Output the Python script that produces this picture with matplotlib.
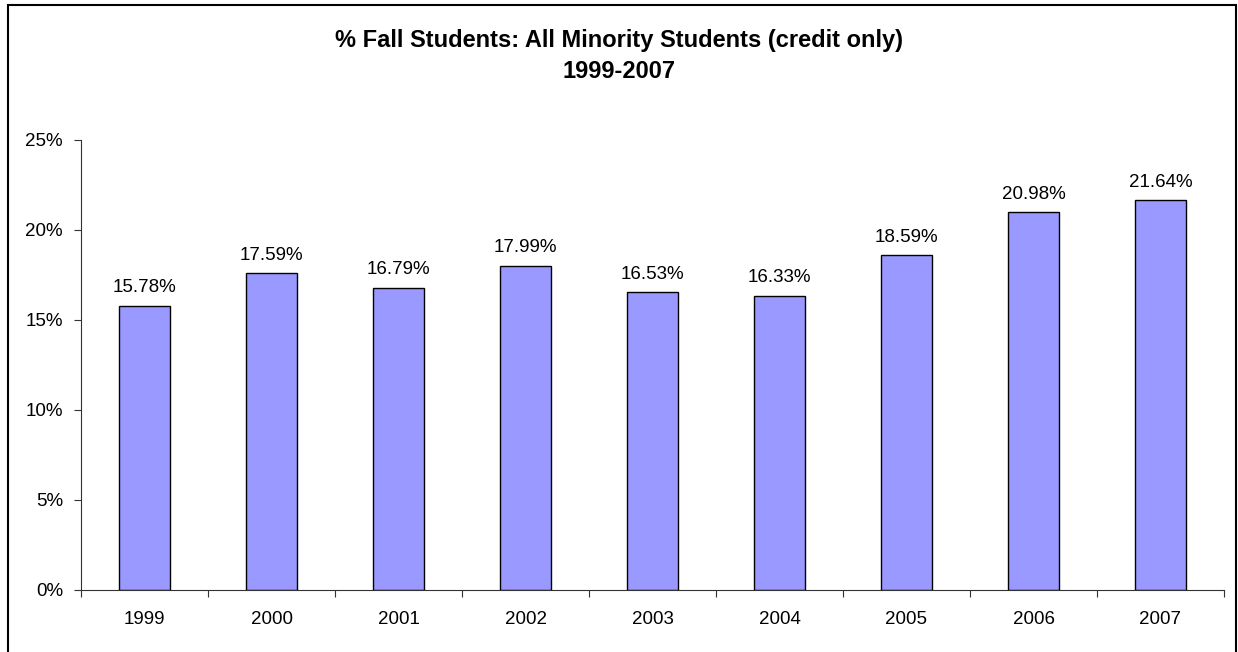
import matplotlib
matplotlib.use("Agg")
import matplotlib.pyplot as plt
from matplotlib.patches import Rectangle
from matplotlib.ticker import FuncFormatter, FixedLocator

plt.rcParams['font.family'] = ['Liberation Sans', 'DejaVu Sans']

years = ['1999', '2000', '2001', '2002', '2003', '2004', '2005', '2006', '2007']
pct = [15.78, 17.59, 16.79, 17.99, 16.53, 16.33, 18.59, 20.98, 21.64]

W, H = 1238, 652
fig = plt.figure(figsize=(W / 100, H / 100), dpi=100)

# outer chart frame (runs off the bottom of the image)
fig.patches.append(Rectangle((8 / W, -0.05), (1236 - 8) / W, 1.05 - 5 / H,
                             transform=fig.transFigure, fill=False,
                             edgecolor='black', linewidth=1.5))

ax = fig.add_axes([81 / W, 1 - 590 / H, (1224 - 81) / W, (590 - 140) / H])
x = list(range(len(years)))
bars = ax.bar(x, pct, width=0.4, color='#9999FF', edgecolor='black', linewidth=1.0)

for xi, v in zip(x, pct):
    ax.annotate(f'{v:.2f}%', (xi, v), xytext=(0, 7), textcoords='offset points',
                ha='center', va='bottom', fontsize=13.5)

ax.set_xlim(-0.5, len(years) - 0.5)
ax.set_ylim(0, 25)
ax.set_yticks([0, 5, 10, 15, 20, 25])
ax.yaxis.set_major_formatter(FuncFormatter(lambda v, p: f'{v:.0f}%'))
ax.set_xticks(x)
ax.set_xticklabels(years)
ax.xaxis.set_minor_locator(FixedLocator([i - 0.5 for i in range(len(years) + 1)]))
ax.tick_params(axis='x', which='major', length=0, pad=15, labelsize=13.5)
ax.tick_params(axis='x', which='minor', length=5, width=0.8, direction='out', color='#333333')
ax.tick_params(axis='y', length=5, width=0.8, direction='out', pad=8, labelsize=13.5, color='#333333')

for s in ['top', 'right']:
    ax.spines[s].set_visible(False)
for s in ['left', 'bottom']:
    ax.spines[s].set_color('#333333')
    ax.spines[s].set_linewidth(0.8)

fig.text(0.5, 1 - 41 / H, '% Fall Students: All Minority Students (credit only)',
         ha='center', va='center', fontsize=17, fontweight='bold')
fig.text(0.5, 1 - 72 / H, '1999-2007',
         ha='center', va='center', fontsize=17, fontweight='bold')

fig.savefig('out.png', dpi=100)
